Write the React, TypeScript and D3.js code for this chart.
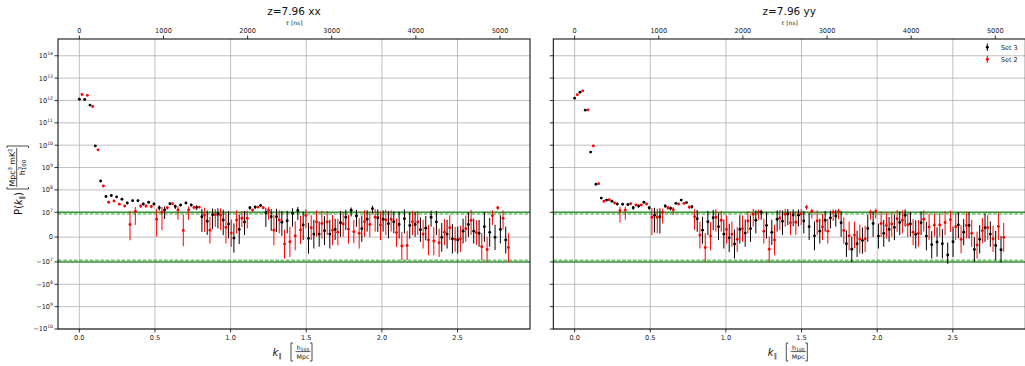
import React from "react";
import * as d3 from "d3";

// k_parallel bin centres [h/Mpc]
const K_BINS = [
  0, 0.0352, 0.0705, 0.1057, 0.1409, 0.1762, 0.2114, 0.2466, 0.2818, 0.3171,
  0.3523, 0.3875, 0.4228, 0.458, 0.4932, 0.5285, 0.5637, 0.5989, 0.6341, 0.6694,
  0.7046, 0.7398, 0.7751, 0.8103, 0.8455, 0.8808, 0.916, 0.9512, 0.9864, 1.0217,
  1.0569, 1.0921, 1.1274, 1.1626, 1.1978, 1.2331, 1.2683, 1.3035, 1.3387, 1.374,
  1.4092, 1.4444, 1.4797, 1.5149, 1.5501, 1.5854, 1.6206, 1.6558, 1.691, 1.7263,
  1.7615, 1.7967, 1.832, 1.8672, 1.9024, 1.9377, 1.9729, 2.0081, 2.0433, 2.0786,
  2.1138, 2.149, 2.1843, 2.2195, 2.2547, 2.29, 2.3252, 2.3604, 2.3956, 2.4309,
  2.4661, 2.5013, 2.5366, 2.5718, 2.607, 2.6423, 2.6775, 2.7127, 2.7479, 2.7832,
  2.8184,
];

// xx polarisation, Set 3
const XX_SET3 = [
  1.14e12, 1.1e12, 6.2e11, 9.3e9, 2.5e8, 5.1e7, 5.6e7, 4.9e7, 3.8e7, 2.6e7,
  3.3e7, 3.3e7, 2.35e7, 2.8e7, 2.35e7, 1.6e7, 1.27e7, 2.4e7, 1.8e7, 2.1e7,
  2.6e7, 2.1e7, 1.65e7, 8.2e6, 6.4e6, 9.0e6, 9.3e6, 6.9e6, 5.3e6, -0.4e6,
  3.1e6, 6.1e6, 1.6e7, 1.7e7, 2.0e7, 9.8e6, 8.2e6, 8.2e6, 6.0e6, 6.6e6,
  9.6e6, 1.2e7, 4.9e6, -0.5e6, 1.2e6, 1.2e6, 2.6e6, 1.2e6, 3.1e6, 5.8e6,
  8.0e6, 1.23e7, 8.5e6, 3.4e6, 7.2e6, 1.45e7, 7.8e6, 7.2e6, 5.4e6, 6.2e6,
  5.1e6, 7.4e6, 4.7e6, 5.1e6, 3.0e6, 3.6e6, 8.0e6, 6.1e6, -0.1e6, 1.2e6,
  -0.7e6, -1.2e6, 2.4e6, 5.1e6, 2.4e6, 1.5e6, 4.2e6, 1.9e6, -0.1e6, 3.1e6,
  -1.2e6,
];
const XX_SET3_ERR = [
  0, 0, 0, 0, 0, 1e6, 1e6, 1e6, 2e6, 3e6,
  3e6, 3e6, 3e6, 3e6, 3e6, 4e6, 5.4e6, 3e6, 4e6, 3e6,
  3e6, 3e6, 4e6, 6.1e6, 5.5e6, 5.8e6, 5.8e6, 6.1e6, 5.8e6, 5.9e6,
  5.9e6, 5.3e6, 3e6, 3e6, 3e6, 5.7e6, 5.7e6, 6.1e6, 5.5e6, 5.1e6,
  5.4e6, 5.1e6, 6.1e6, 6.2e6, 5.8e6, 5.1e6, 5.8e6, 5.8e6, 4.3e6, 5.7e6,
  5.1e6, 4e6, 4.3e6, 5.3e6, 5e6, 5e6, 5.7e6, 5e6, 5.9e6, 4.7e6,
  5.7e6, 5.9e6, 5.3e6, 5e6, 4.9e6, 4.9e6, 3.8e6, 5.3e6, 5.8e6, 5.8e6,
  5.9e6, 5.4e6, 5e6, 5e6, 5e6, 5.4e6, 6.1e6, 5.8e6, 5.1e6, 5.7e6,
  5.4e6,
];

// xx polarisation, Set 2
const XX_SET2 = [
  1.85e12, 1.7e12, 5.4e11, 6.2e9, 1.5e8, 2.8e7, 3.2e7, 2.3e7, 1.9e7, 5.1e6,
  1.1e7, 1.9e7, 1.9e7, 1.8e7, 7.2e6, 1.0e7, 1.6e7, 2.4e7, 1.27e7, 2.7e6,
  1.27e7, 1.65e7, 1.7e7, 8.9e6, 2.8e6, 9.0e6, 8.9e6, 3.9e6, 1.6e6, 6.9e6,
  7.6e6, 7.6e6, 1.25e7, 1.7e7, 1.6e7, 1.2e7, 2.8e6, 6.9e6, -2.8e6, -1.9e6,
  0.5e6, 2.9e6, 8.7e6, 3.8e6, 6.1e6, 5.5e6, 6.1e6, 2.8e6, 2.0e6, 5.3e6,
  3.2e6, 2.2e6, 1.5e6, 6.2e6, 5.1e6, 8.0e6, 4.9e6, 6.9e6, 7.2e6, 1.8e6,
  -3.6e6, -3.4e6, 6.2e6, 6.1e6, 1.2e6, -1.2e6, -1.6e6, -2.3e6, 2.0e6, 3.8e6,
  -0.9e6, -0.7e6, 3.4e6, 6.8e6, 1.8e6, -3.9e6, -5.0e6, 8.6e6, 1.6e7, 7.6e6,
  -4.2e6,
];
const XX_SET2_ERR = [
  0, 0, 0, 0, 0, 1e6, 1e6, 2e6, 2e6, 6.4e6,
  6.1e6, 3e6, 3e6, 3e6, 7e6, 7.2e6, 3e6, 2e6, 5.7e6, 6.4e6,
  5.7e6, 3e6, 2e6, 6.8e6, 5.4e6, 4.9e6, 6.1e6, 6.5e6, 5.5e6, 5.4e6,
  3.6e6, 4.1e6, 2e6, 2e6, 2e6, 5e6, 6.1e6, 5.4e6, 5.8e6, 6.1e6,
  5.8e6, 5.7e6, 5.1e6, 5e6, 5.9e6, 6.1e6, 5.3e6, 6.1e6, 5.3e6, 5.1e6,
  5.8e6, 4.7e6, 6.1e6, 6.1e6, 5e6, 5.8e6, 6.1e6, 6.1e6, 5e6, 5.7e6,
  5.7e6, 5.9e6, 5.4e6, 5.3e6, 5.8e6, 6.1e6, 5.7e6, 5.7e6, 5.3e6, 5e6,
  5e6, 5.3e6, 5.3e6, 5.9e6, 5e6, 5.4e6, 5e6, 3.8e6, 3e6, 4.5e6,
  5.8e6,
];

// yy polarisation, Set 3
const YY_SET3 = [
  1.27e12, 2.35e12, 3.7e11, 4.9e9, 1.8e8, 4.3e7, 3.5e7, 3.1e7, 2.35e7, 2.3e7,
  2.2e7, 1.6e7, 1.9e7, 2.8e7, 1.6e7, 8.8e6, 8.2e6, 1.9e7, 1.5e7, 2.5e7,
  3.5e7, 2.7e7, 1.75e7, 7.4e6, 2.8e6, 6.2e6, 7.8e6, 4.2e6, 1.2e6, -0.3e6,
  -2.8e6, 3.1e6, 1.6e6, 3.4e6, 6.8e6, 1.0e7, 4.7e6, 1.9e6, 7.2e6, 6.4e6,
  9.3e6, 8.9e6, 8.8e6, 6.5e6, 4.2e6, 0.5e6, 2.4e6, 6.8e6, 7.7e6, 8.5e6,
  5.8e6, -2.7e6, -4.9e6, -2.7e6, -1.4e6, 3.5e6, 5.5e6, 0.4e6, 1.5e6, 3.1e6,
  3.9e6, 5.9e6, 8.8e6, 5.3e6, 1.1e6, 5.8e6, 0.4e6, -3.1e6, -2.0e6, -2.7e6,
  -7.2e6, -1.9e6, 4.9e6, 2.0e6, 4.7e6, -5.0e6, -0.9e6, 3.8e6, 1.2e6, -3.4e6,
  -5.1e6,
];
const YY_SET3_ERR = [
  0, 0, 0, 0, 0, 1e6, 2e6, 2e6, 3e6, 3e6,
  3e6, 3e6, 3e6, 3e6, 3e6, 7e6, 6.8e6, 3e6, 3e6, 2e6,
  2e6, 2e6, 3e6, 5.3e6, 5.4e6, 5.4e6, 5e6, 5.4e6, 5.8e6, 5.7e6,
  5.8e6, 5.7e6, 5.5e6, 5.3e6, 5.3e6, 3e6, 5.3e6, 5.1e6, 5e6, 5.5e6,
  4.5e6, 4.5e6, 4.5e6, 5e6, 5.4e6, 5.8e6, 5e6, 4.6e6, 4.2e6, 4.3e6,
  5.7e6, 5.3e6, 5.1e6, 5.3e6, 5.3e6, 5.4e6, 5.4e6, 5e6, 5.4e6, 5e6,
  5.1e6, 5.1e6, 4.6e6, 5.1e6, 5.7e6, 5e6, 5.7e6, 5.5e6, 5.9e6, 5.9e6,
  5e6, 6.1e6, 5.4e6, 5.3e6, 5.3e6, 5e6, 5.7e6, 5.7e6, 5.1e6, 5.9e6,
  5.5e6,
];

// yy polarisation, Set 2
const YY_SET2 = [
  1.8e12, 2.7e12, 3.8e11, 9.3e9, 1.9e8, 3.1e7, 3.6e7, 2.6e7, 1.18e7, 1.25e7,
  2.4e7, 2.1e7, 2.1e7, 2.35e7, 8.0e6, 8.0e6, 1.0e7, 1.6e7, 1.3e7, 2.35e7,
  2.5e7, 1.7e7, 8.2e6, 0.8e6, -4.2e6, 0.4e6, 8.0e6, 6.8e6, 3.1e6, 1.2e6,
  -0.9e6, 3.4e6, 6.5e6, 9.2e6, 1.0e7, 2.4e6, -4.9e6, -1.2e6, 7.7e6, 9.2e6,
  5.8e6, 6.0e6, 9.3e6, 1.7e7, 1.1e7, 6.5e6, 4.1e6, 2.4e6, 1.0e7, 1.07e7,
  2.7e6, 0.5e6, 0.8e6, -0.8e6, -0.7e6, 1.0e7, 1.1e7, 5.5e6, 4.7e6, 5.3e6,
  7.4e6, 6.8e6, 5.0e6, 2.0e6, 1.5e6, 7.2e6, 4.1e6, 4.9e6, 4.9e6, 5.9e6,
  7.0e6, 4.2e6, -0.9e6, 4.7e6, 1.5e6, -3.2e6, 2.6e6, 3.8e6, -0.7e6, 4.3e6,
  -0.1e6,
];
const YY_SET2_ERR = [
  0, 0, 0, 0, 0, 1e6, 1e6, 2e6, 6e6, 5.5e6,
  2e6, 2e6, 2e6, 2e6, 7.2e6, 6.5e6, 4.5e6, 3e6, 4e6, 2e6,
  2e6, 3e6, 5.4e6, 5.4e6, 5.8e6, 5.7e6, 5.8e6, 4.6e6, 5.7e6, 5.1e6,
  5e6, 5.3e6, 5e6, 5e6, 3e6, 5e6, 5.1e6, 6.1e6, 4.9e6, 5e6,
  5e6, 5e6, 4.5e6, 4e6, 3.5e6, 5.7e6, 5.3e6, 5e6, 3.5e6, 3.5e6,
  5.3e6, 5.8e6, 5.4e6, 5.8e6, 5.3e6, 3e6, 3.5e6, 5.4e6, 5.3e6, 5.1e6,
  5.3e6, 5.3e6, 4.9e6, 5.3e6, 5.4e6, 5e6, 5.3e6, 4.7e6, 4.7e6, 5.1e6,
  4.9e6, 5.4e6, 5.7e6, 5.3e6, 5.4e6, 5.4e6, 5.1e6, 5e6, 5.3e6, 5.5e6,
  5.8e6,
];

const K_TICKS = [0, 0.5, 1.0, 1.5, 2.0, 2.5];
const TAU_TICKS = [0, 1000, 2000, 3000, 4000, 5000];
const P_TICKS = [-1e10, -1e9, -1e8, -1e7, 0, 1e7, 1e8, 1e9, 1e10, 1e11, 1e12, 1e13, 1e14];
const NOISE_LEVEL = 1e7;
const NOISE_LEVEL_ALT = 0.93e7;
const SERIES_NAMES = ["Set 3", "Set 2"];

// Axis limits and delay conversion
const K_DOMAIN = [-0.141, 2.979];
const TAU_PER_K = 1798;
const P_MIN = -1e10;
const P_MAX = Math.pow(10, 14.75);

// Symmetric-log transform (linear inside +/- LINTHRESH, log10 beyond)
const LINTHRESH = 1e7;
const LINSCALE_ADJ = 1 / (1 - 1 / 10);
function symlog(v: number): number {
  const a = Math.abs(v);
  if (a <= LINTHRESH) return (v / LINTHRESH) * LINSCALE_ADJ;
  return Math.sign(v) * (LINSCALE_ADJ + Math.log10(a / LINTHRESH));
}

// Layout
const FIG_W = 1025;
const FIG_H = 366;
const PANEL_W = 472;
const PANEL_TOP = 39;
const PANEL_BOTTOM = 329;
const DODGE = 0.0178;
const FONT = "DejaVu Sans, sans-serif";
const TICK_FS = 6.6;

function Bracket({ x, y0, y1, dir, horizontal = false }: any) {
  // dir: +1 opening bracket, -1 closing bracket
  const s = 2 * dir;
  const d = `M${x + s},${y0} L${x},${y0} L${x},${y1} L${x + s},${y1}`;
  return <path d={d} fill="none" stroke="#222" strokeWidth={0.8} />;
}

function PowLabel({ v, x, y }: { v: number; x: number; y: number }) {
  if (v === 0) {
    return (
      <text x={x} y={y} textAnchor="end" fontSize={TICK_FS} fill="#222">
        0
      </text>
    );
  }
  const exp = Math.round(Math.log10(Math.abs(v)));
  return (
    <text x={x} y={y} textAnchor="end" fontSize={TICK_FS} fill="#222">
      {v < 0 ? "\u2212" : ""}10
      <tspan dy={-3} fontSize={4.6}>
        {exp}
      </tspan>
    </text>
  );
}

function Panel({ left, title, s3, e3, s2, e2, yLabels, legend }: any) {
  const x = d3.scaleLinear().domain(K_DOMAIN).range([0, PANEL_W]);
  const tau = d3
    .scaleLinear()
    .domain(K_DOMAIN.map((k) => k * TAU_PER_K))
    .range([0, PANEL_W]);
  const y = d3
    .scaleLinear()
    .domain([symlog(P_MIN), symlog(P_MAX)])
    .range([PANEL_BOTTOM, PANEL_TOP]);
  const py = (v: number) => y(symlog(v));
  const fmtK = d3.format(".1f");
  const cx = PANEL_W / 2;

  const series = [
    { vals: s3, errs: e3, color: "#000000", dk: 0 },
    { vals: s2, errs: e2, color: "#ff0000", dk: DODGE },
  ];

  return (
    <g transform={`translate(${left},0)`}>
      {/* grid */}
      {K_TICKS.map((k) => (
        <line key={`gx${k}`} x1={x(k)} x2={x(k)} y1={PANEL_TOP} y2={PANEL_BOTTOM} stroke="#b0b0b0" strokeWidth={0.8} />
      ))}
      {P_TICKS.map((v) => (
        <line key={`gy${v}`} x1={0} x2={PANEL_W} y1={py(v)} y2={py(v)} stroke="#b0b0b0" strokeWidth={0.8} />
      ))}

      {/* noise levels */}
      {[NOISE_LEVEL, -NOISE_LEVEL].map((v) => (
        <line key={`n${v}`} x1={0} x2={PANEL_W} y1={py(v)} y2={py(v)} stroke="#228b22" strokeOpacity={0.85} strokeWidth={1.5} />
      ))}
      {[NOISE_LEVEL_ALT, -NOISE_LEVEL_ALT].map((v) => (
        <line key={`na${v}`} x1={0} x2={PANEL_W} y1={py(v)} y2={py(v)} stroke="#2ca02c" strokeWidth={1} strokeDasharray="3.7,1.6" />
      ))}

      {/* data */}
      {series.map((s, si) => (
        <g key={`s${si}`}>
          {K_BINS.map((k, i) => {
            const v = s.vals[i];
            const e = s.errs[i];
            const px = x(k + s.dk);
            return (
              <g key={i}>
                {e > 0 && (
                  <line x1={px} x2={px} y1={py(v - e)} y2={py(v + e)} stroke={s.color} strokeWidth={1} />
                )}
                <circle cx={px} cy={py(v)} r={1.45} fill={s.color} />
              </g>
            );
          })}
        </g>
      ))}

      {/* frame */}
      <rect x={0} y={PANEL_TOP} width={PANEL_W} height={PANEL_BOTTOM - PANEL_TOP} fill="none" stroke="#000" strokeWidth={1} />

      {/* bottom axis */}
      {K_TICKS.map((k) => (
        <g key={`bx${k}`}>
          <line x1={x(k)} x2={x(k)} y1={PANEL_BOTTOM} y2={PANEL_BOTTOM + 3.5} stroke="#000" strokeWidth={0.8} />
          <text x={x(k)} y={339.5} textAnchor="middle" fontSize={TICK_FS} fill="#222">
            {fmtK(k)}
          </text>
        </g>
      ))}

      {/* top axis (delay) */}
      {TAU_TICKS.map((t) => (
        <g key={`tx${t}`}>
          <line x1={tau(t)} x2={tau(t)} y1={PANEL_TOP} y2={PANEL_TOP - 3.5} stroke="#000" strokeWidth={0.8} />
          <text x={tau(t)} y={33.3} textAnchor="middle" fontSize={TICK_FS} fill="#222">
            {t}
          </text>
        </g>
      ))}
      <text x={cx} y={25} textAnchor="middle" fontSize={6} fill="#222">
        <tspan fontStyle="italic">τ</tspan> [ns]
      </text>
      <text x={cx} y={14.5} textAnchor="middle" fontSize={10.5} fill="#111">
        {title}
      </text>

      {/* left axis */}
      {P_TICKS.map((v) => (
        <g key={`ly${v}`}>
          <line x1={0} x2={-3.5} y1={py(v)} y2={py(v)} stroke="#000" strokeWidth={0.8} />
          {yLabels && <PowLabel v={v} x={-5} y={py(v) + 2.4} />}
        </g>
      ))}

      {/* x label: k_parallel [h100 / Mpc] */}
      <g fill="#111">
        <text x={cx - 21.5} y={355.5} fontSize={10} fontStyle="italic">
          k
        </text>
        <text x={cx - 15.5} y={357.5} fontSize={6.5}>
          ∥
        </text>
        <Bracket x={cx - 3} y0={343} y1={361} dir={1} />
        <text x={cx + 9} y={349.6} textAnchor="middle" fontSize={6.3}>
          h<tspan dy={1.3} fontSize={4.4}>100</tspan>
        </text>
        <line x1={cx + 1.5} x2={cx + 16.5} y1={351.6} y2={351.6} stroke="#111" strokeWidth={0.7} />
        <text x={cx + 9} y={358.6} textAnchor="middle" fontSize={6.3}>
          Mpc
        </text>
        <Bracket x={cx + 18} y0={343} y1={361} dir={-1} />
      </g>

      {/* y label: P(k_parallel) [Mpc^3 mK^2 / h^3_100] */}
      {yLabels && (
        <g transform={`translate(${21.5 - left},${(PANEL_TOP + PANEL_BOTTOM) / 2}) rotate(-90)`} fill="#111">
          <text x={-8} y={0} textAnchor="end" fontSize={10}>
            P(<tspan fontStyle="italic">k</tspan>
            <tspan dy={2} fontSize={6.5}>∥</tspan>
            <tspan dy={-2}>)</tspan>
          </text>
          <Bracket x={-5} y0={-14.5} y1={7} dir={1} />
          <text x={16.5} y={-7} textAnchor="middle" fontSize={7.8}>
            Mpc<tspan dy={-2.6} fontSize={5.4}>3</tspan>
            <tspan dy={2.6}> mK</tspan>
            <tspan dy={-2.6} fontSize={5.4}>2</tspan>
          </text>
          <line x1={-3} x2={36} y1={-4.8} y2={-4.8} stroke="#111" strokeWidth={0.7} />
          <text x={16.5} y={3.2} textAnchor="middle" fontSize={7.8}>
            h<tspan dy={-2.6} fontSize={5.4}>3</tspan>
            <tspan dx={-3.4} dy={4.2} fontSize={5.4}>100</tspan>
          </text>
          <Bracket x={38} y0={-14.5} y1={7} dir={-1} />
        </g>
      )}

      {/* legend */}
      {legend &&
        series.map((s, i) => {
          const ly = 47.3 + i * 12;
          return (
            <g key={`lg${i}`}>
              <line x1={434} x2={434} y1={ly - 3.7} y2={ly + 3.7} stroke={s.color} strokeWidth={1} />
              <circle cx={434} cy={ly} r={1.45} fill={s.color} />
              <text x={447.4} y={ly + 2.3} fontSize={TICK_FS} fill="#222">
                {SERIES_NAMES[i]}
              </text>
            </g>
          );
        })}
    </g>
  );
}

export default function App() {
  return (
    <svg
      width={FIG_W}
      height={FIG_H}
      viewBox={`0 0 ${FIG_W} ${FIG_H}`}
      style={{ position: "absolute", left: 0, top: 0, fontFamily: FONT, background: "#fff" }}
    >
      <rect x={0} y={0} width={FIG_W} height={FIG_H} fill="#fff" />
      <Panel left={58} title="z=7.96 xx" s3={XX_SET3} e3={XX_SET3_ERR} s2={XX_SET2} e2={XX_SET2_ERR} yLabels legend={false} />
      <Panel left={553.3} title="z=7.96 yy" s3={YY_SET3} e3={YY_SET3_ERR} s2={YY_SET2} e2={YY_SET2_ERR} yLabels={false} legend />
    </svg>
  );
}
